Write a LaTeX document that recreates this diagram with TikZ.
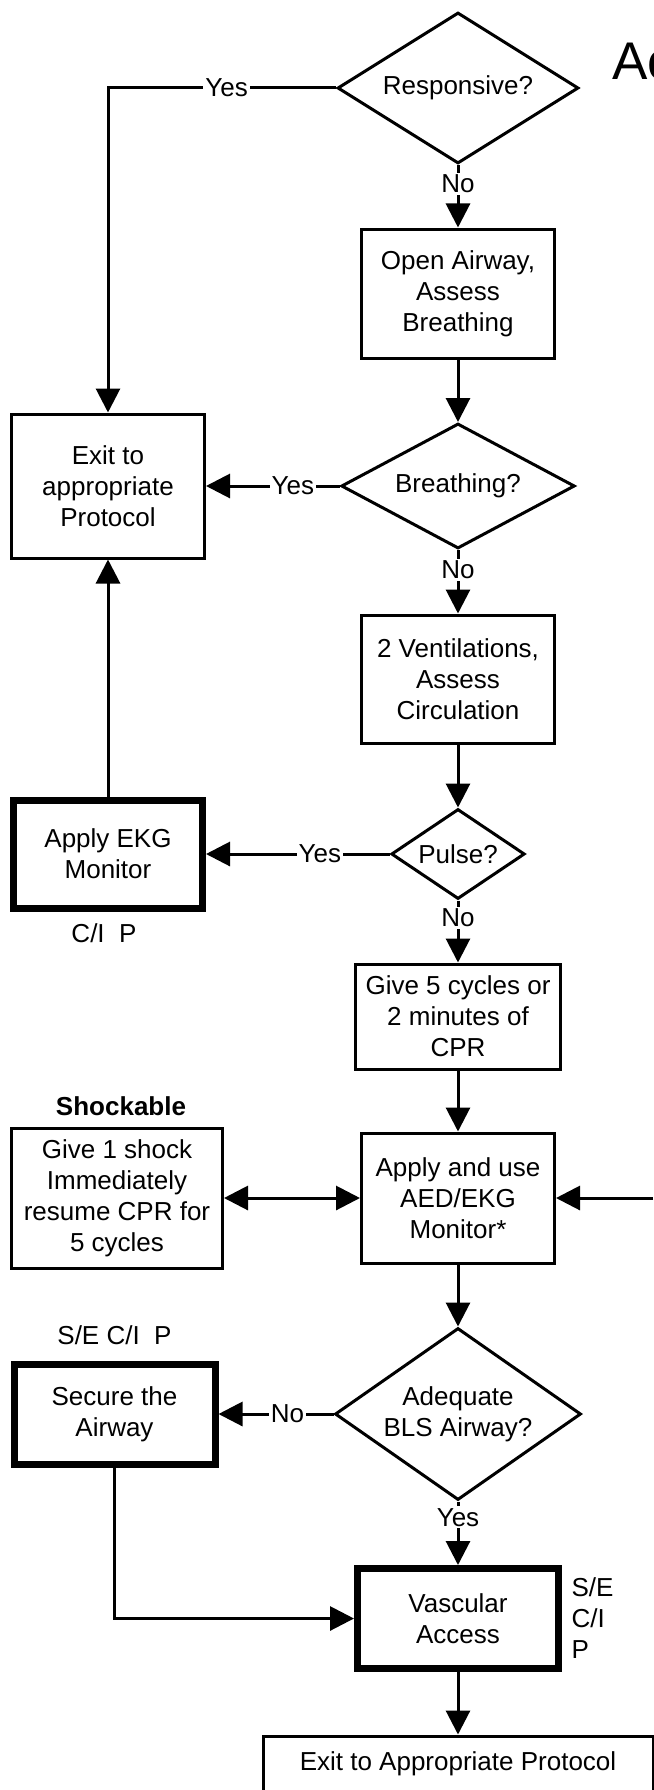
\documentclass[tikz,border=0pt]{standalone}
\usepackage{fontspec}
\setmainfont{Liberation Sans}
\usepackage{tikz}
\usetikzlibrary{shapes.geometric,arrows.meta}
\begin{document}
\begin{tikzpicture}[x=1pt,y=-1pt,line width=3pt,>={Triangle[length=24pt,width=24pt]},
every node/.style={font=\fontsize{26}{31}\selectfont,align=center,inner sep=0pt},
box/.style={draw,rectangle},
thickbox/.style={draw,rectangle,line width=7pt},
decide/.style={draw,diamond,aspect=1.5},
lbl/.style={fill=white,inner sep=2pt}]
\useasboundingbox (0,0) rectangle (653,1790);
\node[anchor=base west,font=\fontsize{53}{60}\selectfont] (title) at (611,80) {Ac};
\node[decide,minimum width=241pt,minimum height=151pt] (resp) at (458,88) {Responsive?};
\node[box,minimum width=193pt,minimum height=129pt] (open) at (458,293.5) {Open Airway,\\Assess\\Breathing};
\node[box,minimum width=193pt,minimum height=144pt] (exit) at (108,486) {Exit to\\appropriate\\Protocol};
\node[decide,minimum width=233.5pt,minimum height=125pt] (breath) at (458,486) {Breathing?};
\node[box,minimum width=193pt,minimum height=128pt] (vent) at (458,679) {2 Ventilations,\\Assess\\Circulation};
\node[decide,minimum width=133.5pt,minimum height=90pt] (pulse) at (458,854) {Pulse?};
\node[thickbox,minimum width=189pt,minimum height=108pt] (ekg) at (108,854) {Apply EKG\\Monitor};
\node (cip) at (104,933) {C/I~~P};
\node[box,minimum width=205pt,minimum height=105pt] (cpr) at (458,1016.5) {Give 5 cycles or\\2 minutes of\\CPR};
\node[font=\fontsize{26}{31}\selectfont\bfseries] (shockable) at (121,1106) {Shockable};
\node[box,minimum width=211pt,minimum height=140pt] (shock) at (117,1198) {Give 1 shock\\Immediately\\resume CPR for\\5 cycles};
\node[box,minimum width=193pt,minimum height=130pt] (aed) at (458,1198) {Apply and use\\AED/EKG\\Monitor*};
\coordinate (side) at (653,1198);
\node[decide,minimum width=246pt,minimum height=172pt] (adeq) at (458,1414) {Adequate\\BLS Airway?};
\node (secip) at (114.5,1335) {S/E C/I~~P};
\node[thickbox,minimum width=201pt,minimum height=100pt] (secure) at (114.5,1414) {Secure the\\Airway};
\node[thickbox,minimum width=201pt,minimum height=100pt] (vasc) at (458,1618.5) {Vascular\\Access};
\node[anchor=west,align=left] (vacip) at (570,1618) {S/E\\C/I\\P};
\node[box,minimum width=390pt,minimum height=56pt] (final) at (458,1764) {Exit to Appropriate Protocol};
\draw[->] (resp.west) -| node[lbl,pos=0.24] {Yes} (exit.north);
\draw[->] (resp.south) -- node[lbl,pos=0.3] {No} (open.north);
\draw[->] (open.south) -- (breath.north);
\draw[->] (breath.west) -- node[lbl,pos=0.35] {Yes} (exit.east);
\draw[->] (breath.south) -- node[lbl,pos=0.31] {No} (vent.north);
\draw[->] (vent.south) -- (pulse.north);
\draw[->] (pulse.west) -- node[lbl,pos=0.38] {Yes} (ekg.east);
\draw[->] (ekg.north) -- (exit.south);
\draw[->] (pulse.south) -- node[lbl,pos=0.28] {No} (cpr.north);
\draw[->] (cpr.south) -- (aed.north);
\draw[<->] (shock.east) -- (aed.west);
\draw[->] (side) -- (aed.east);
\draw[->] (aed.south) -- (adeq.north);
\draw[->] (adeq.west) -- node[lbl,pos=0.4] {No} (secure.east);
\draw[->] (adeq.south) -- node[lbl,pos=0.25] {Yes} (vasc.north);
\draw[->] (secure.south) |- (vasc.west);
\draw[->] (vasc.south) -- (final.north);
\end{tikzpicture}
\end{document}
